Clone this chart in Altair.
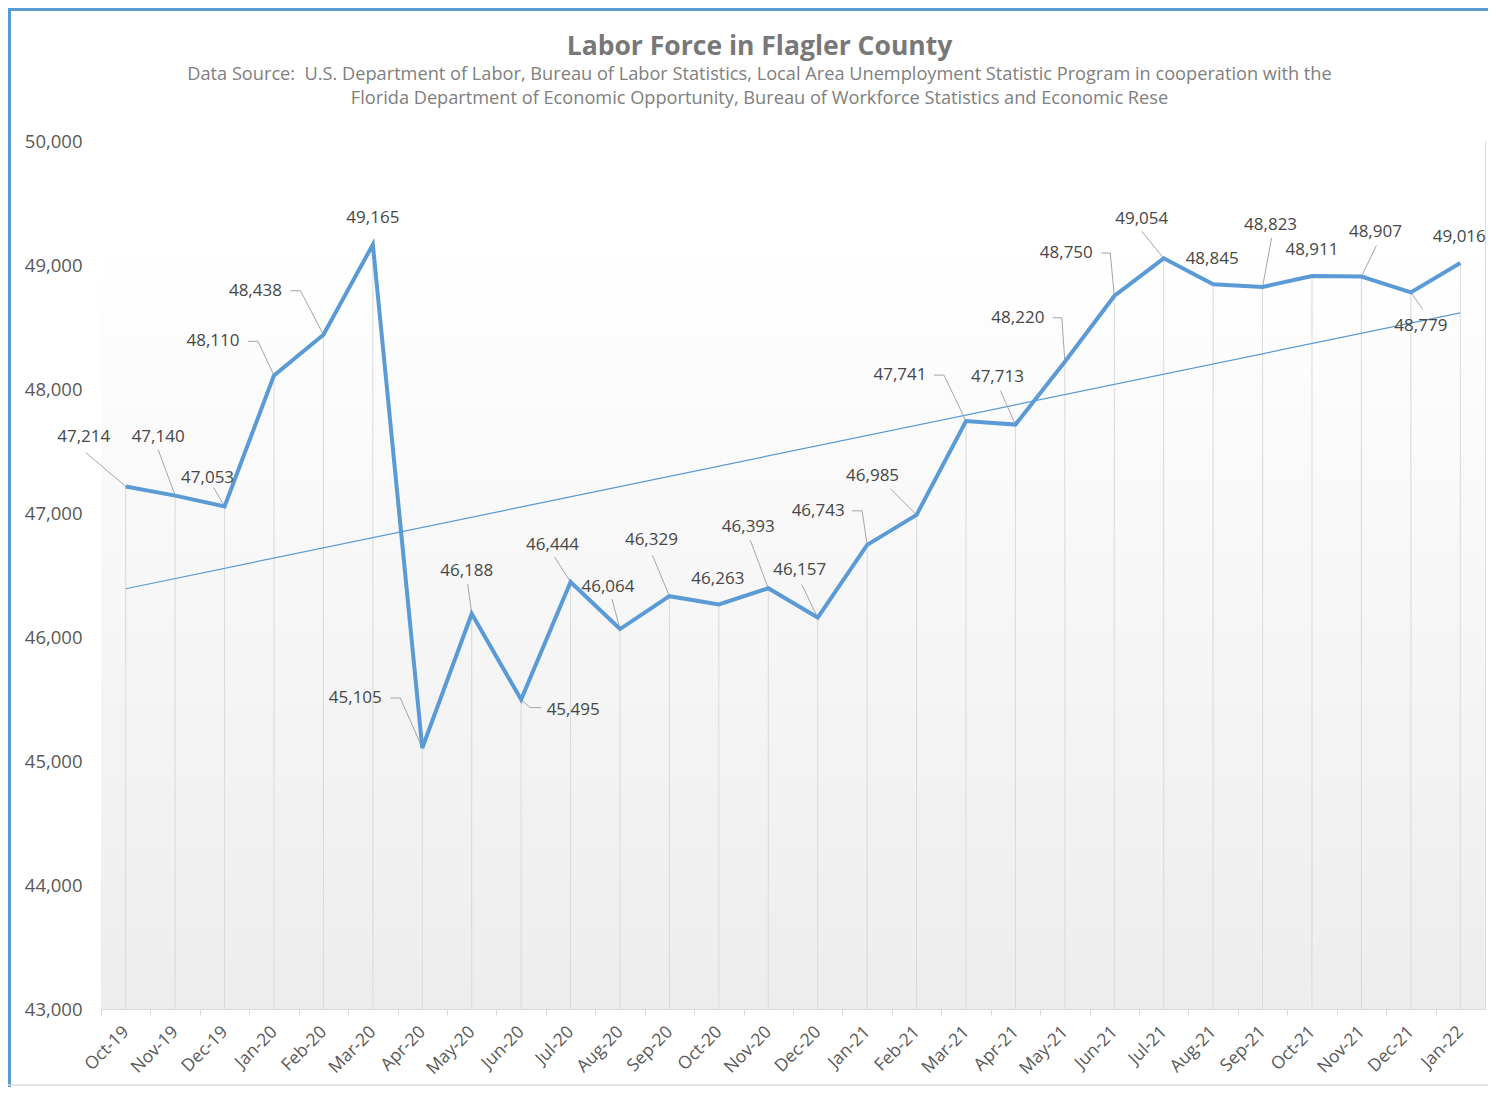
import altair as alt
import pandas as pd

months = ["Oct-19", "Nov-19", "Dec-19", "Jan-20", "Feb-20", "Mar-20", "Apr-20",
          "May-20", "Jun-20", "Jul-20", "Aug-20", "Sep-20", "Oct-20", "Nov-20",
          "Dec-20", "Jan-21", "Feb-21", "Mar-21", "Apr-21", "May-21", "Jun-21",
          "Jul-21", "Aug-21", "Sep-21", "Oct-21", "Nov-21", "Dec-21", "Jan-22"]
values = [47214, 47140, 47053, 48110, 48438, 49165, 45105, 46188, 45495, 46444,
          46064, 46329, 46263, 46393, 46157, 46743, 46985, 47741, 47713, 48220,
          48750, 49054, 48845, 48823, 48911, 48907, 48779, 49016]
y_ticks = [43000, 44000, 45000, 46000, 47000, 48000, 49000, 50000]

# data-label placement (pixel offsets of label centre from its point)
label_dx = [-42, -17, -17, -61, -68, 0, -67, -5, 52, -18, -12, -18, -1, -20,
            -18, -49, -44, -66, -18, -47, -48, -22, -1, 8, 0, 14, 10, -1]
label_dy = [-49, -59, -28, -34, -44, -27, -50, -43, 10, -37, -42, -56, -25, -61,
            -48, -34, -39, -46, -48, -44, -43, -39, -25, -62, -26, -45, 34, -26]
# leader lines: pixel offset of the far end from the point, and horizontal stub
leader = {0: (-40, -34, 0), 1: (-17, -46, 0), 2: (-11, -19, 0), 3: (-16, -34, -10),
          4: (-23, -44, -10), 6: (-22, -50, -10), 7: (-4, -30, 0), 8: (9, 8, 11),
          9: (-16, -25, 0), 10: (-8, -30, 0), 11: (-17, -41, 0), 13: (-18, -48, 0),
          14: (-16, -33, 0), 15: (-5, -34, -10), 16: (-26, -26, 0), 17: (-22, -46, -10),
          18: (-15, -34, 0), 19: (-3, -44, -9), 20: (-4, -43, -9), 21: (-22, -27, 0),
          23: (9, -49, 0), 25: (15, -31, 0), 26: (12, 17, 0)}

title_text = "Labor Force in Flagler County"
subtitle_lines = [
    "Data Source:\u00a0 U.S. Department of Labor, Bureau of Labor Statistics, Local Area Unemployment Statistic Program in cooperation with the",
    "Florida Department of Economic Opportunity, Bureau of Workforce Statistics and Economic Rese",
]

W, H = 1384, 868
Y0, Y1 = 43000, 50000
STEP = W / len(months)
K = H / (Y1 - Y0)

df = pd.DataFrame({"idx": list(range(len(months))), "month": months, "value": values})
df["label"] = [f"{v:,}" for v in values]
df["lx"] = [i + dx / STEP for i, dx in enumerate(label_dx)]
df["ly"] = [v - dy / K for v, dy in zip(values, label_dy)]

segs = []
for i, (sx, sy, stub) in leader.items():
    v = values[i]
    ex, ey = i + sx / STEP, v - sy / K
    segs.append({"x": i, "y": v, "x2": ex, "y2": ey})
    if stub:
        segs.append({"x": ex, "y": ey, "x2": ex + stub / STEP, "y2": ey})
seg_df = pd.DataFrame(segs)

FONT = "Open Sans"
xscale = alt.Scale(domain=[-0.5, len(months) - 0.5], nice=False, zero=False)
yscale = alt.Scale(domain=[Y0, Y1], nice=False, zero=False)
js_months = "[" + ",".join(f"'{m}'" for m in months) + "]"

x_axis = alt.Axis(values=[i - 0.5 for i in range(len(months))],
                  labelExpr=f"{js_months}[datum.value + 0.5]",
                  labelOffset=STEP / 2, labelAngle=-45, labelAlign="right",
                  labelBaseline="middle", labelFontSize=17.5, labelColor="#595959",
                  labelFont=FONT, labelPadding=14, tickSize=6, tickColor="#d9d9d9",
                  domainColor="#d9d9d9", grid=False, title=None, labelOverlap=False)
y_axis = alt.Axis(values=y_ticks, labelExpr="format(datum.value, ',')",
                  domain=False, ticks=False, grid=False,
                  labelPadding=19, labelFontSize=18.5, labelColor="#595959",
                  labelFont=FONT, title=None)

one = alt.Data(values=[{}])

X = lambda f: alt.X(f, scale=xscale, axis=x_axis)
Y = lambda f: alt.Y(f, scale=yscale, axis=y_axis)

bg = alt.Chart(one).mark_rect(
    fill=alt.LinearGradient(gradient="linear", x1=0, y1=0, x2=0, y2=1,
                            stops=[alt.GradientStop(offset=0, color="#ffffff"),
                                   alt.GradientStop(offset=0.12, color="#ffffff"),
                                   alt.GradientStop(offset=1, color="#ededed")])
).encode(
    x=alt.X(datum=-0.5, type="quantitative", scale=xscale, axis=x_axis),
    x2=alt.datum(len(months) - 0.5),
    y=alt.Y(datum=Y1, type="quantitative", scale=yscale, axis=y_axis),
    y2=alt.datum(Y0),
)

base = alt.Chart(df)

drops = base.mark_rule(color="#d9d9d9", strokeWidth=1).encode(
    x=X("idx:Q"), y=Y("value:Q"), y2=alt.datum(Y0),
)

trend = base.transform_regression("idx", "value", extent=[0, len(months) - 1]).mark_line(
    color="#5b9bd5", strokeWidth=1.2
).encode(x=X("idx:Q"), y=Y("value:Q"))

leaders = alt.Chart(seg_df).mark_rule(color="#a6a6a6", strokeWidth=1).encode(
    x=X("x:Q"), y=Y("y:Q"), x2="x2:Q", y2="y2:Q",
)

line = base.mark_line(color="#5b9bd5", strokeWidth=4, strokeJoin="miter").encode(
    x=X("idx:Q"), y=Y("value:Q"),
)

labels = base.mark_text(font=FONT, fontSize=17, color="#474747", align="center",
                        baseline="middle").encode(
    x=X("lx:Q"), y=Y("ly:Q"), text="label:N",
)

PAD_L, PAD_T = 93, 133
TOT_W, TOT_H = 1480, 1079
left_border = alt.Chart(one).mark_rule(color="#5b9bd5", strokeWidth=3).encode(
    x=alt.value(-PAD_L + 1.5), y=alt.value(-PAD_T), y2=alt.value(TOT_H - PAD_T))
top_border = alt.Chart(one).mark_rule(color="#5b9bd5", strokeWidth=3).encode(
    x=alt.value(-PAD_L), x2=alt.value(TOT_W - PAD_L), y=alt.value(-PAD_T + 1.5))
bottom_border = alt.Chart(one).mark_rule(color="#d9d9d9", strokeWidth=1.5).encode(
    x=alt.value(-PAD_L), x2=alt.value(TOT_W - PAD_L), y=alt.value(TOT_H - PAD_T - 2))

chart = alt.layer(bg, drops, trend, leaders, line, labels,
                  left_border, top_border, bottom_border).properties(
    width=W, height=H,
    autosize=alt.AutoSizeParams(type="none"),
    padding={"left": PAD_L, "top": PAD_T, "right": TOT_W - PAD_L - W,
             "bottom": TOT_H - PAD_T - H},
    title=alt.TitleParams(
        text=title_text,
        subtitle=subtitle_lines,
        anchor="middle", frame="group", dx=-33.5, offset=0, dy=101,
        font=FONT, fontSize=26.5, fontWeight="bold",
        color="#787878", subtitleFont=FONT, subtitleFontSize=18.2,
        subtitleColor="#808080", subtitlePadding=6, subtitleLineHeight=24,
    ),
).configure_view(strokeWidth=0).configure(background="white")

chart.save("out.html", embed_options={"renderer": "svg", "actions": False})
